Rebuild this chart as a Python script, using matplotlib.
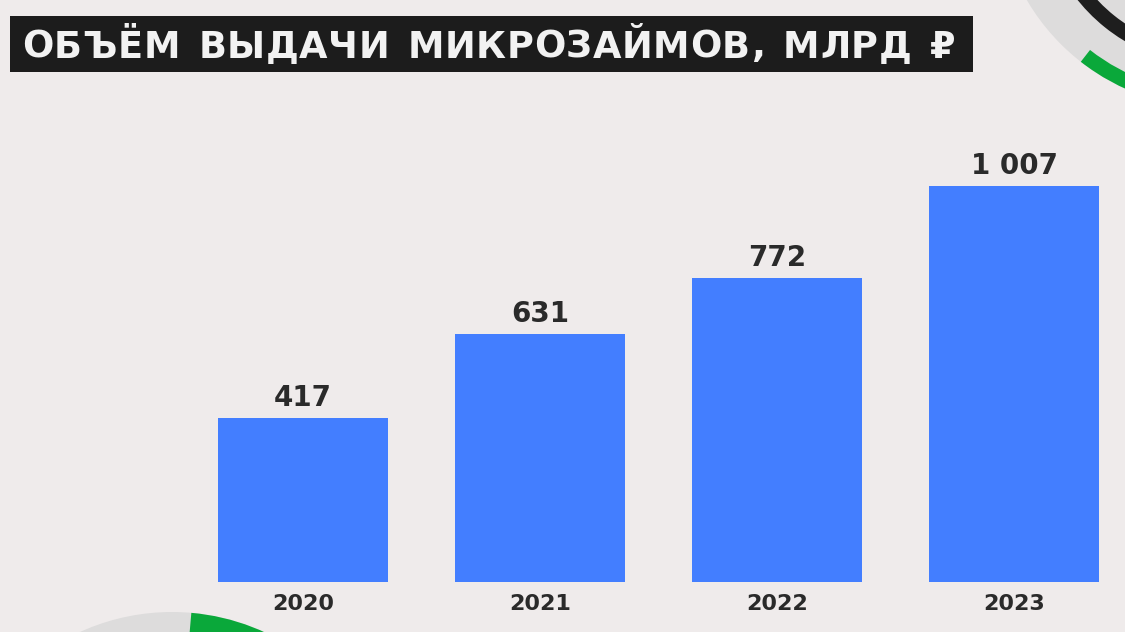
import numpy as np
import matplotlib
matplotlib.use('Agg')
from matplotlib import pyplot as plt
from matplotlib.patches import Circle, Wedge, Rectangle

years = ['2020', '2021', '2022', '2023']
volumes = [417, 631, 772, 1007]
value_labels = ['417', '631', '772', '1 007']
title = 'ОБЪЁМ ВЫДАЧИ МИКРОЗАЙМОВ, МЛРД ₽'

bg = '#efebeb'
bar_color = '#437eff'
text_color = '#2a2a2a'

plt.rcParams['font.family'] = ['DejaVu Sans']

fig = plt.figure(figsize=(11.25, 6.32), dpi=100)
fig.patch.set_facecolor(bg)

# decoration layer in pixel coordinates
deco = fig.add_axes([0, 0, 1, 1])
deco.set_xlim(0, 1125)
deco.set_ylim(632, 0)
deco.axis('off')
deco.set_facecolor(bg)

# top right donut
deco.add_patch(Circle((1215, -110), 218, color='#dddcdc', lw=0))
deco.add_patch(Wedge((1215, -110), 218, 90, 128, width=15, color='#0aa83a', lw=0))
deco.add_patch(Wedge((1215, -110), 176, 100, 215, width=15, color='#1e1e1e', lw=0))
# bottom left donut
deco.add_patch(Circle((172, 834), 222, color='#dddcdc', lw=0))
deco.add_patch(Wedge((172, 834), 222, -85, -20, color='#0aa83a', lw=0))

# title box
deco.add_patch(Rectangle((10, 16), 963, 56, color='#1c1c1c', lw=0))

# title with letter spacing, stretched to the box width
renderer = fig.canvas.get_renderer()
tsize = 26.5
widths = []
for ch in title:
    t = deco.text(0, 0, ch if ch != ' ' else 'n', fontsize=tsize, fontweight='bold')
    w = t.get_window_extent(renderer).width
    if ch == ' ':
        w *= 0.65
    widths.append(w)
    t.remove()
x0, x1 = 22, 955
gap = (x1 - x0 - sum(widths)) / (len(title) - 1)
cx = x0
for ch, w in zip(title, widths):
    if ch != ' ':
        deco.text(cx, 47, ch, color='#f2f2f2', fontsize=tsize, fontweight='bold',
                  ha='left', va='center')
    cx += w + gap

# bars
ax = fig.add_axes([0, 0, 1, 1])
ax.patch.set_alpha(0)
x = np.arange(len(years))
ax.bar(x, volumes, width=0.717, color=bar_color)
ax.set_xlim(-303 / 237, (1125 - 303) / 237)
scale = 396 / 1007
ax.set_ylim(-50 / scale, 582 / scale)
ax.axis('off')

for xi, v, lab, yr in zip(x, volumes, value_labels, years):
    ax.text(xi, v + 20 / scale, lab, ha='center', va='center',
            fontsize=20, fontweight='bold', color=text_color)
    ax.text(xi, -22 / scale, yr, ha='center', va='center',
            fontsize=16, fontweight='bold', color=text_color)

fig.savefig('out.png', dpi=100, facecolor=bg)
